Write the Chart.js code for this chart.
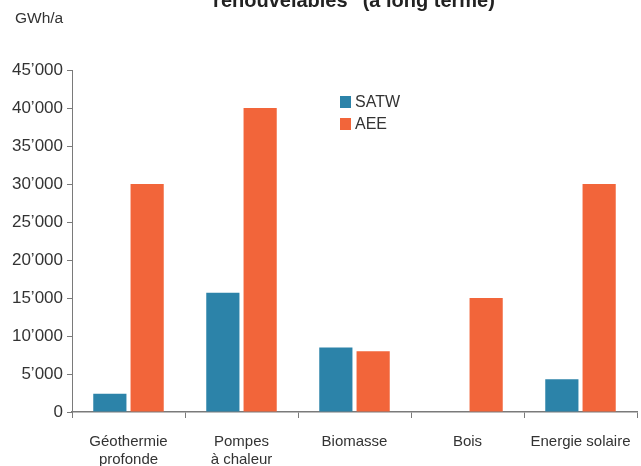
<!DOCTYPE html>
<html>
<head>
<meta charset="utf-8">
<script src="https://cdn.jsdelivr.net/npm/chart.js@4"></script>
<style>
html,body{margin:0;padding:0;background:#fff;}
#wrap{width:641px;height:466px;position:relative;}
</style>
</head>
<body>
<div id="wrap"><canvas id="c" width="641" height="466"></canvas></div>
<script>
const categories = [["Géothermie","profonde"],["Pompes","à chaleur"],"Biomasse","Bois","Energie solaire"];
const satw = [2400, 15700, 8500, 0, 4300];
const aee = [30000, 40000, 8000, 15000, 30000];
const seriesNames = ["SATW", "AEE"];
const yTicks = [0, 5000, 10000, 15000, 20000, 25000, 30000, 35000, 40000, 45000];
const titleText = "renouvelables\" (à long terme)";
const unitText = "GWh/a";

const BLUE = "#2c83a9", ORANGE = "#f2653a", AXIS = "#7a7a7a", TXT = "#333333";
const FONT = "'Liberation Sans', Arial, sans-serif";

const extras = {
  id: "extras",
  afterDraw(chart) {
    const ctx = chart.ctx;
    ctx.save();
    ctx.fillStyle = "#222";
    ctx.font = "bold 20px " + FONT;
    ctx.textAlign = "center";
    ctx.textBaseline = "alphabetic";
    ctx.fillText(titleText, 354, 7);
    ctx.fillStyle = TXT;
    ctx.font = "15.5px " + FONT;
    ctx.textAlign = "left";
    ctx.fillText(unitText, 15, 23);
    // legend
    ctx.font = "16px " + FONT;
    ctx.textBaseline = "middle";
    chart.data.datasets.forEach((ds, i) => {
      const y = 102 + i * 22;
      ctx.fillStyle = ds.backgroundColor;
      ctx.fillRect(340, y - 6, 11, 12);
      ctx.fillStyle = TXT;
      ctx.fillText(ds.label, 355, y + 1);
    });
    ctx.restore();
  }
};

new Chart(document.getElementById("c"), {
  type: "bar",
  data: {
    labels: categories,
    datasets: [
      { label: seriesNames[0], data: satw, backgroundColor: BLUE },
      { label: seriesNames[1], data: aee, backgroundColor: ORANGE }
    ]
  },
  options: {
    responsive: false,
    animation: false,
    devicePixelRatio: 1,
    layout: { padding: { top: 70, right: 4, left: 0, bottom: 0 } },
    plugins: { legend: { display: false }, title: { display: false }, tooltip: { enabled: false } },
    datasets: { bar: { categoryPercentage: 0.66, barPercentage: 0.89 } },
    scales: {
      x: {
        afterFit(s) { s.height = 54; s.paddingLeft = 0; s.paddingRight = 0; },
        grid: { display: true, drawOnChartArea: false, offset: true, color: AXIS, tickLength: 6 },
        border: { display: true, color: AXIS, width: 1.5 },
        ticks: { color: TXT, font: { family: FONT, size: 15, lineHeight: 1.2 }, padding: 15, maxRotation: 0, autoSkip: false }
      },
      y: {
        min: 0, max: 45000,
        afterFit(s) { s.width = 72; s.paddingTop = 0; s.paddingBottom = 0; },
        afterBuildTicks(s) { s.ticks = yTicks.map(v => ({ value: v })); },
        grid: { display: true, drawOnChartArea: false, color: AXIS, tickLength: 5 },
        border: { display: true, color: AXIS, width: 1 },
        ticks: {
          color: TXT, font: { family: FONT, size: 17 }, padding: 4,
          callback: v => v === 0 ? "0" : (v / 1000) + "’000"
        }
      }
    }
  },
  plugins: [extras]
});
</script>
</body>
</html>
